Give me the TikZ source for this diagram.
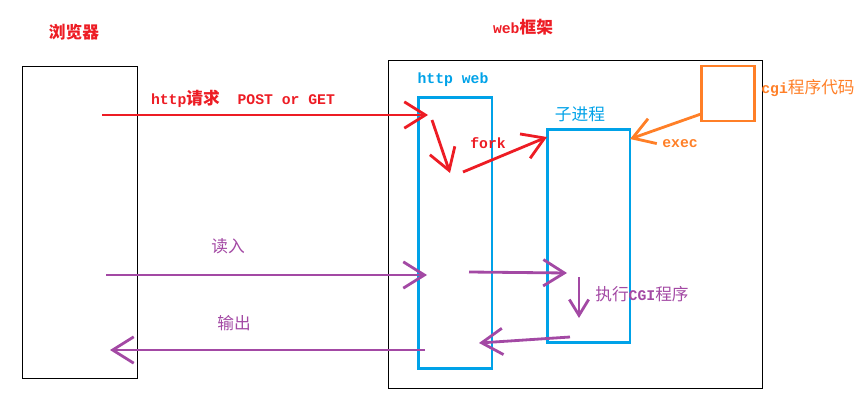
\documentclass[tikz,border=0pt]{standalone}
\usepackage{fontspec}
\setmainfont{Liberation Mono}
\newfontfamily\cjk{Noto Sans CJK SC}
\usetikzlibrary{arrows.meta}
\definecolor{rouge}{HTML}{ED1C24}
\definecolor{bleu}{HTML}{00A2E8}
\definecolor{orangec}{HTML}{FF7F27}
\definecolor{mauve}{HTML}{A349A4}
\begin{document}
\begin{tikzpicture}[x=0.02cm,y=-0.02cm]
\tikzset{
	boite/.style={draw, inner sep=0pt},
	fleche/.style={line width=1.6pt, -{Straight Barb[length=12pt,width=15pt]}},
	petite/.style={line width=1.6pt, -{Straight Barb[length=9pt,width=11pt]}},
	texte/.style={font=\fontsize{8.4}{10}\selectfont\bfseries, inner sep=0pt}
}
\useasboundingbox (0,0) rectangle (868,412);

 % les boites
  \node[boite, line width=0.5pt, minimum width=2.3cm, minimum height=6.24cm] (navig) at (79.5,222) {};
  \node[boite, line width=0.5pt, minimum width=7.48cm, minimum height=6.56cm] (cadre) at (575,224) {};
  \node[boite, bleu, line width=1.7pt, minimum width=1.48cm, minimum height=5.44cm] (http) at (455,233) {};
  \node[boite, bleu, line width=1.7pt, minimum width=1.66cm, minimum height=4.28cm] (fils) at (588.5,236) {};
  \node[boite, orangec, line width=1.7pt, minimum width=1.06cm, minimum height=1.1cm] (cgi) at (727.5,93.5) {};

% du texte
  \node[texte, rouge] (lnavig) at (74,32) {\cjk\fontsize{9.5}{11}\selectfont 浏览器};
  \node[texte, rouge] (lcadre) at (523,27) {web{\cjk\fontsize{9.5}{11}\selectfont 框架}};
  \node[texte, bleu] (lhttp) at (453,80) {http web};
  \node[texte, bleu] (lfils) at (580,114) {\cjk\mdseries\fontsize{9.5}{11}\selectfont 子进程};
  \node[texte, orangec] (lcgi) at (808,88) {cgi{\cjk\mdseries\fontsize{9.5}{11}\selectfont 程序代码}};
  \node[texte, orangec] (lexec) at (680,144) {exec};
  \node[texte, rouge] (lreq) at (243,99) {http{\cjk\fontsize{9.5}{11}\selectfont 请求}~~POST or GET};
  \node[texte, rouge] (lfork) at (488,143) {fork};
  \node[texte, mauve] (llire) at (228,246) {\cjk\mdseries\fontsize{9.5}{11}\selectfont 读入};
  \node[texte, mauve] (lexe) at (642,294) {\cjk\mdseries\fontsize{9.5}{11}\selectfont 执行{\rmfamily\bfseries\fontsize{8.4}{10}\selectfont CGI}程序};
  \node[texte, mauve] (lsortie) at (234,323) {\cjk\mdseries\fontsize{9.5}{11}\selectfont 输出};

% les points des fleches
  \coordinate (req) at (102,115);   \coordinate (reqfin) at (428,115);
  \coordinate (bas) at (432,120);   \coordinate (basfin) at (450,173);
  \coordinate (fork) at (463,172);  \coordinate (forkfin) at (547,137);
  \coordinate (exe) at (701,114);   \coordinate (exefin) at (630,139);
  \coordinate (lire) at (106,275);  \coordinate (lirefin) at (427,275);
  \coordinate (passe) at (469,272); \coordinate (passefin) at (567,273);
  \coordinate (run) at (579,277);   \coordinate (runfin) at (579,318);
  \coordinate (retour) at (570,337);\coordinate (retourfin) at (479,343);
  \coordinate (sortie) at (425,350);\coordinate (sortiefin) at (110,350);

% les fleches
  \draw[fleche, rouge] (req) -- (reqfin);
  \draw[fleche, rouge] (bas) -- (basfin);
  \draw[fleche, rouge] (fork) -- (forkfin);
  \draw[fleche, orangec] (exe) -- (exefin);
  \draw[fleche, mauve] (lire) -- (lirefin);
  \draw[fleche, mauve] (passe) -- (passefin);
  \draw[petite, mauve] (run) -- (runfin);
  \draw[fleche, mauve] (retour) -- (retourfin);
  \draw[fleche, mauve] (sortie) -- (sortiefin);
\end{tikzpicture}
\end{document}
